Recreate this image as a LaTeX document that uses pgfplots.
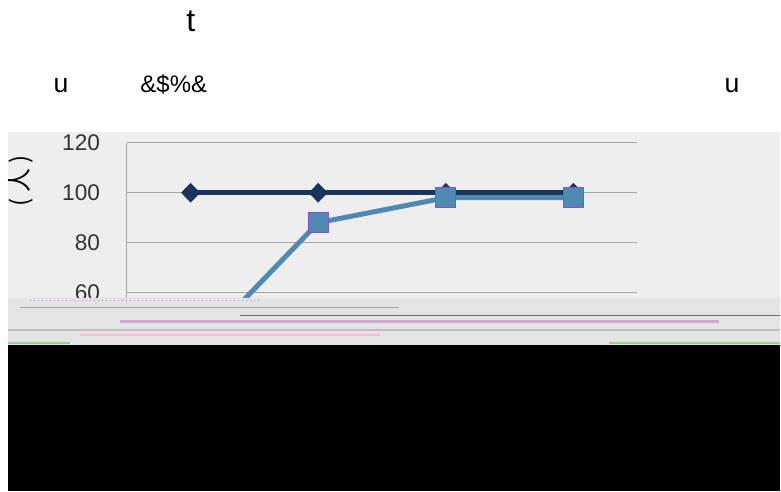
\documentclass[border=0pt]{standalone}
\usepackage{pgfplots}
\pgfplotsset{compat=1.18}
\usepackage{fontspec}
\setmainfont{Liberation Sans}
\newfontfamily\cjk{Noto Sans CJK SC}

\definecolor{chartbg}{HTML}{EEEEEE}
\definecolor{gridgray}{HTML}{A6A6A6}
\definecolor{navy}{HTML}{1B365A}
\definecolor{steel}{HTML}{4F8AB3}
\definecolor{markedge}{HTML}{8A4FD0}
\definecolor{noise}{HTML}{E4E4E4}

\begin{document}
\begin{tikzpicture}
\begin{scope}[x=0.75pt,y=0.75pt]
\useasboundingbox (0,0) rectangle (781,492);
% chart area
\fill[chartbg] (8,0) rectangle (781,360);
% title lines (garbled glyphs as in the source)
\node[anchor=base, inner sep=0pt, font=\fontsize{24}{24}\selectfont] at (191,460) {t};
\node[anchor=base, inner sep=0pt, font=\fontsize{20}{20}\selectfont] at (61,399) {u};
\node[anchor=base, inner sep=0pt, font=\fontsize{18}{18}\selectfont] at (174,399) {\&\$\%\&};
\node[anchor=base, inner sep=0pt, font=\fontsize{20}{20}\selectfont] at (733,399) {u};
% y label
\node[rotate=90, inner sep=0pt, font=\cjk\fontsize{18}{18}\selectfont] at (21,311) {(\kern4pt人\kern4pt)};
\end{scope}

\begin{axis}[
    at={(95.25pt,36.75pt)}, anchor=south west,
    scale only axis,
    width=383.25pt, height=225pt,
    xmin=0.5, xmax=4.5,
    ymin=0, ymax=120,
    ytick={0,20,...,120},
    xtick={1,2,3,4},
    xticklabels={},
    ymajorgrids=true,
    grid style={gridgray, line width=0.75pt},
    axis lines*=left,
    x axis line style={draw=none},
    y axis line style={gridgray, line width=0.75pt},
    tick style={draw=none},
    yticklabel style={font=\fontsize{17}{17}\selectfont, text=black!80, inner sep=0pt, xshift=-20pt},
    /pgf/number format/assume math mode=true,
]
    \addplot[
        color=navy, line width=3.75pt,
        mark=diamond*, mark size=7pt,
        mark options={line width=0.5pt, fill=navy, draw=navy, xscale=1.3},
    ]
    coordinates {
        (1, 100)
        (2, 100)
        (3, 100)
        (4, 100)
    };

    \addplot[
        color=steel, line width=3.75pt,
        mark=square*, mark size=7.5pt,
        mark options={fill=steel, draw=markedge, line width=1pt, line join=round},
    ]
    coordinates {
        (1, 35)
        (2, 88)
        (3, 98)
        (4, 98)
    };
\end{axis}

\begin{scope}[x=0.75pt,y=0.75pt]
% damaged band and black lower part of the source image
\fill[noise] (8,146) rectangle (781,194);
\draw[markedge!70, dotted, line width=1pt] (30,191) -- (260,191);
\draw[gray!70, line width=1pt] (20,184) -- (400,184);
\draw[black!60, line width=1pt] (240,176) -- (781,176);
\draw[violet!35, line width=2pt] (120,170) -- (720,170);
\draw[gray!50, line width=1.5pt] (8,162) -- (781,162);
\draw[magenta!30, line width=1.5pt] (80,157) -- (380,157);
\draw[green!45!gray!60, line width=1.5pt] (8,149) -- (70,149);
\draw[green!45!gray!60, line width=1.5pt] (610,149) -- (781,149);
\fill[black] (8,0) rectangle (781,146.5);
\end{scope}
\end{tikzpicture}
\end{document}
